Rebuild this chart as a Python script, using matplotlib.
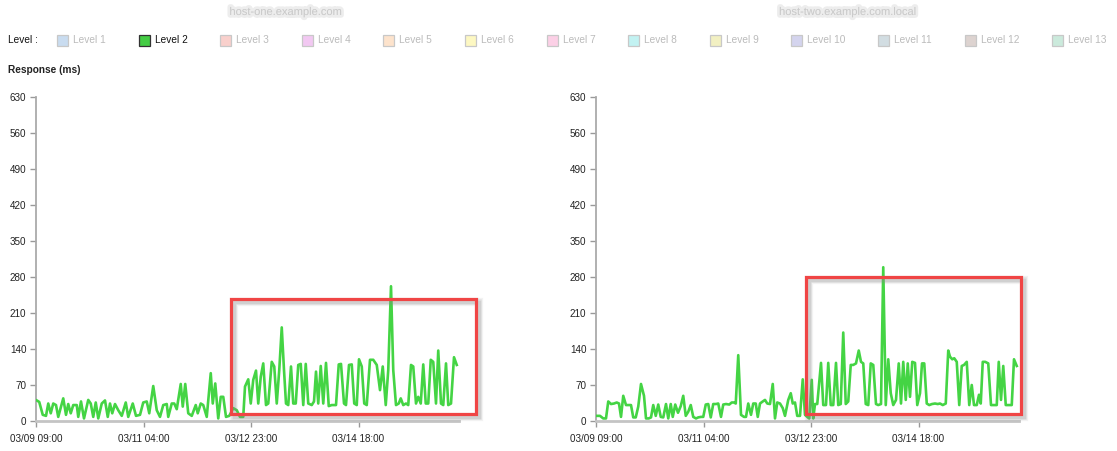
import matplotlib
matplotlib.use('Agg')
import matplotlib.pyplot as plt
import matplotlib.patheffects as pe
from matplotlib.patches import Rectangle

plt.rcParams['font.family'] = ['Liberation Sans', 'DejaVu Sans']

# hours since 03/09 09:00 and response times (ms)
left_hours = [0.3, 1.3, 2.7, 4.0, 4.9, 5.9, 6.9, 8.0, 8.9, 10.9, 12.0, 12.9, 13.9, 14.9, 16.3,
              16.9, 18.0, 19.2, 20.9, 21.9, 22.9, 23.9, 24.9, 26.3, 27.6, 28.7, 29.6, 30.5,
              31.6, 32.9, 34.3, 35.9, 36.9, 38.7, 40.0, 41.6, 42.9, 44.3, 45.3, 46.9, 48.3,
              49.6, 50.9, 52.3, 52.9, 54.3, 55.3, 56.3, 57.9, 58.7, 59.7, 60.9, 62.3, 63.9,
              64.7, 65.9, 66.9, 68.3, 69.9, 70.7, 71.7, 72.9, 73.9, 74.9, 76.0, 77.3, 78.9,
              80.3, 81.6, 82.9, 83.6, 84.9, 85.9, 86.9, 88.0, 88.9, 89.9, 90.9, 92.0, 92.9,
              94.3, 95.3, 96.3, 97.3, 98.3, 99.2, 100.0, 100.9, 102.0, 102.9, 103.9, 104.9,
              105.9, 106.9, 107.9, 108.9, 110.3, 111.2, 112.0, 112.9, 113.9, 114.9, 116.0,
              117.1, 118.3, 120.0, 121.1, 122.0, 123.2, 124.0, 125.2, 126.3, 127.3, 128.3,
              129.2, 130.3, 131.3, 132.3, 133.6, 134.9, 136.3, 137.6, 138.7, 139.9, 140.9,
              142.0, 142.9, 144.0, 145.1, 145.9, 146.9, 148.0, 148.9, 150.0, 150.9, 152.0,
              152.9, 153.9, 154.9, 155.9, 156.9, 157.9, 158.9, 160.0, 160.9, 162.0, 162.9,
              164.0, 164.9, 166.0, 167.2, 168.3]
left_values = [40, 37, 12, 10, 34, 15, 34, 31, 8, 44, 12, 33, 15, 31, 31,
               8, 38, 5, 41, 34, 8, 36, 5, 34, 40, 8, 34, 15,
               33, 21, 10, 36, 8, 34, 10, 12, 36, 38, 15, 68, 21,
               8, 31, 33, 8, 34, 34, 23, 72, 28, 72, 15, 10, 31,
               15, 34, 31, 8, 93, 34, 73, 5, 47, 47, 8, 10, 25,
               21, 8, 8, 67, 81, 34, 80, 98, 34, 86, 112, 31, 34,
               115, 106, 34, 99, 182, 99, 34, 31, 106, 34, 34, 109,
               111, 31, 111, 34, 31, 38, 96, 34, 107, 34, 113,
               29, 31, 31, 110, 111, 34, 31, 109, 110, 34, 31,
               120, 106, 34, 31, 119, 119, 109, 60, 106, 31, 99,
               262, 99, 31, 34, 44, 31, 34, 31, 109, 106, 34,
               47, 34, 110, 34, 34, 119, 115, 34, 137, 34, 31,
               112, 31, 34, 124, 109]

right_hours = [0.0, 1.6, 2.9, 4.0, 4.9, 6.0, 7.2, 8.3, 9.2, 10.0, 10.9, 12.0, 13.2, 14.0,
               14.9, 15.9, 16.9, 18.0, 19.2, 20.0, 21.1, 22.0, 22.9, 23.9, 24.9, 25.9, 26.9,
               28.0, 28.9, 29.9, 30.7, 31.7, 32.8, 33.9, 34.9, 35.9, 36.9, 37.9, 38.9, 40.0,
               40.9, 42.0, 42.9, 43.9, 44.9, 45.9, 46.9, 48.0, 48.9, 50.0, 50.9, 52.0, 53.3,
               54.3, 55.2, 55.9, 56.9, 58.0, 59.2, 60.0, 60.9, 62.0, 62.9, 63.9, 64.7, 65.6,
               66.7, 67.6, 68.5, 69.6, 70.7, 71.6, 72.5, 73.6, 74.7, 75.6, 76.9, 77.9, 78.7,
               79.6, 80.5, 81.6, 82.7, 83.6, 84.5, 85.3, 86.3, 86.9, 87.6, 88.5, 90.0, 90.9,
               92.0, 92.9, 93.9, 94.9, 96.0, 96.9, 97.9, 98.9, 99.9, 100.9, 101.9, 102.9,
               104.0, 105.1, 106.0, 106.9, 107.9, 108.9, 109.9, 110.9, 112.0, 112.9, 114.0,
               114.9, 115.9, 116.9, 117.9, 118.9, 120.0, 121.1, 122.0, 122.9, 123.9, 124.7,
               125.6, 126.5, 127.6, 128.5, 129.6, 130.4, 131.3, 132.3, 133.3, 134.4, 135.6,
               136.7, 137.6, 138.7, 139.9, 140.9, 141.6, 142.5, 143.3, 144.3, 145.3, 146.3,
               147.2, 148.3, 149.3, 150.3, 151.2, 152.3, 153.2, 153.9, 154.7, 155.7, 156.9,
               158.0, 158.9, 160.3, 161.1, 162.0, 162.9, 163.9, 164.9, 166.3, 167.2, 168.3]
right_values = [10, 10, 5, 5, 38, 33, 34, 36, 34, 8, 49, 31, 31, 31,
                7, 7, 28, 72, 49, 5, 5, 7, 31, 10, 32, 8, 7,
                33, 5, 33, 8, 32, 16, 29, 49, 10, 18, 31, 8, 5,
                7, 8, 8, 32, 33, 7, 33, 33, 34, 8, 32, 33, 32,
                36, 36, 34, 128, 12, 8, 8, 34, 12, 34, 34, 8, 34,
                38, 41, 34, 33, 72, 5, 36, 34, 25, 10, 41, 54, 34,
                36, 10, 10, 81, 12, 8, 5, 80, 5, 33, 33, 113, 31,
                31, 113, 31, 31, 113, 31, 33, 172, 33, 38, 109, 109,
                112, 137, 115, 112, 33, 31, 112, 109, 33, 31, 33,
                299, 31, 120, 54, 31, 41, 112, 34, 115, 41, 112,
                47, 115, 113, 31, 54, 112, 112, 34, 31, 33, 34,
                33, 34, 31, 34, 137, 125, 120, 122, 115, 31, 107,
                109, 115, 31, 70, 31, 31, 51, 34, 115, 115, 112,
                31, 31, 31, 115, 41, 107, 31, 31, 31, 120, 107]

tick_hours = [0, 43, 86, 129]
tick_labels = ['03/09 09:00', '03/11 04:00', '03/12 23:00', '03/14 18:00']
y_ticks = list(range(0, 631, 70))

levels = ['Level %d' % i for i in range(1, 14)]
level_colors = ['#c9dcf0', '#44cc44', '#f9d0cc', '#f2c8f2', '#fde3cc', '#fdf8c2', '#fcd0e6',
                '#c2f2f2', '#f2f0c2', '#d4d4ee', '#d2dde2', '#ddd3d0', '#cbeadc']
active_level = 1

W, H = 1117, 451
fig = plt.figure(figsize=(W / 100, H / 100), dpi=100)
fig.patch.set_facecolor('white')

def px_axes(x0, x1, y_top, y_bot):
    return fig.add_axes([x0 / W, (H - y_bot) / H, (x1 - x0) / W, (y_bot - y_top) / H])

def style_axes(ax, hours, values):
    ax.plot(hours, values, color='#44d444', lw=1.9, solid_joinstyle='round', zorder=3)
    ax.set_xlim(0, 169)
    ax.set_ylim(0, 630)
    ax.set_yticks(y_ticks)
    ax.set_xticks(tick_hours)
    ax.set_xticklabels(tick_labels)
    for s in ['top', 'right']:
        ax.spines[s].set_visible(False)
    ax.spines['left'].set_color('#aaaaaa')
    ax.spines['left'].set_linewidth(1.3)
    ax.spines['bottom'].set_color('#c4c4c4')
    ax.spines['bottom'].set_linewidth(2.0)
    ax.tick_params(axis='both', colors='#999999', labelcolor='#222222', labelsize=7.1,
                   length=4, width=1)
    ax.tick_params(axis='x', pad=5)
    ax.tick_params(axis='y', pad=3)
    ax.set_facecolor('none')

ax1 = px_axes(36, 458.5, 97, 421)
style_axes(ax1, left_hours, left_values)
ax2 = px_axes(596, 1018.5, 97, 421)
style_axes(ax2, right_hours, right_values)

# blurred page titles (soft gray text)
for cx, txt in [(286, 'host-one.example.com'), (848, 'host-two.example.com.local')]:
    fig.text(cx / W, (H - 12) / H, txt, ha='center', va='center', fontsize=8,
             color='#c4c4c4', alpha=0.8,
             path_effects=[pe.withStroke(linewidth=4, foreground='#e6e6e6', alpha=0.7)])

# legend row
fig.text(8 / W, (H - 40) / H, 'Level :', ha='left', va='center', fontsize=7.3, color='#111111')
x = 57
for i, (name, col) in enumerate(zip(levels, level_colors)):
    active = i == active_level
    fig.patches.append(Rectangle((x / W, (H - 46) / H), 11 / W, 11 / H,
                                 transform=fig.transFigure, facecolor=col,
                                 edgecolor='#333333' if active else '#c8c8c8', lw=0.9))
    fig.text((x + 16) / W, (H - 40) / H, name, ha='left', va='center', fontsize=7.3,
             color='#111111' if active else '#bbbbbb')
    x += 81.6 if i < 9 else 87

fig.text(8 / W, (H - 70) / H, 'Response (ms)', ha='left', va='center', fontsize=7.3,
         fontweight='bold', color='#222222')

# highlighted regions (red boxes with soft shadow)
for (x0, y0, x1, y1) in [(231, 299, 476, 414), (806, 277, 1021, 414)]:
    for k, a in [(6, 0.10), (4, 0.15), (2.5, 0.2)]:
        fig.patches.append(Rectangle(((x0 + 3) / W, (H - y1 - 3) / H), (x1 - x0) / W,
                                     (y1 - y0) / H, transform=fig.transFigure, fill=False,
                                     edgecolor='#888888', lw=k, alpha=a, zorder=5))
    fig.patches.append(Rectangle((x0 / W, (H - y1) / H), (x1 - x0) / W, (y1 - y0) / H,
                                 transform=fig.transFigure, fill=False,
                                 edgecolor='#f04545', lw=2.3, zorder=6))

fig.savefig('out.png', dpi=100, facecolor='white')
plt.close(fig)
